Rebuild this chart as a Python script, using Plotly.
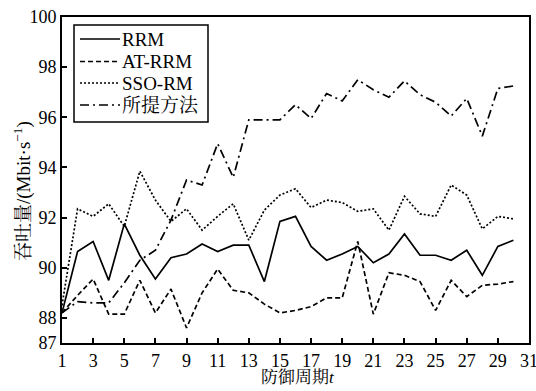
import plotly.graph_objects as go

t = list(range(1, 31))
rrm = [88.2, 90.65, 91.05, 89.5, 91.75, 90.5, 89.55, 90.4, 90.55, 90.95,
       90.65, 90.9, 90.9, 89.45, 91.85, 92.05, 90.85, 90.3, 90.55, 90.85,
       90.2, 90.55, 91.35, 90.5, 90.5, 90.3, 90.7, 89.7, 90.85, 91.1]
at_rrm = [88.2, 88.9, 89.55, 88.15, 88.15, 89.5, 88.2, 89.15, 87.6, 89.0,
          89.95, 89.1, 89.0, 88.55, 88.2, 88.3, 88.45, 88.8, 88.8, 91.05,
          88.15, 89.8, 89.7, 89.45, 88.3, 89.5, 88.85, 89.3, 89.35, 89.45]
sso_rm = [88.5, 92.35, 92.05, 92.55, 91.65, 93.85, 92.7, 91.85, 92.35, 91.5,
          92.05, 92.55, 91.1, 92.3, 92.9, 93.15, 92.4, 92.7, 92.6, 92.25,
          92.35, 91.5, 92.85, 92.15, 92.05, 93.3, 92.9, 91.55, 92.05, 91.95]
proposed = [88.2, 88.65, 88.6, 88.6, 89.4, 90.3, 90.7, 91.9, 93.5, 93.3,
            94.95, 93.6, 95.9, 95.9, 95.9, 96.5, 95.95, 96.95, 96.65, 97.5,
            97.1, 96.8, 97.45, 96.9, 96.6, 96.05, 96.75, 95.25, 97.15, 97.25]

names = ["RRM", "AT-RRM", "SSO-RM", "所提方法"]
x_ticks = list(range(1, 32, 2))
y_ticks = [87, 88, 90, 92, 94, 96, 98, 100]
x_title = "防御周期<i>t</i>"
y_title = "吞吐量/(Mbit·s<sup>−1</sup>)"

FONT = "Liberation Serif, Noto Serif CJK SC, Noto Sans CJK SC, serif"

W, H = 536, 391
ML, MR, MT, MB = 62, 7, 17, 48
PW, PH = W - ML - MR, H - MT - MB


def px2paper(px, py):
    return (px - ML) / PW, (H - MB - py) / PH


fig = go.Figure()
dashes = ["solid", "5px,3px", "2px,2px", "9px,4px,2px,4px"]
series = [rrm, at_rrm, sso_rm, proposed]
for name, ys, dash in zip(names, series, dashes):
    fig.add_trace(go.Scatter(x=t, y=ys, mode="lines", name=name, showlegend=False,
                             line=dict(color="black", width=1.7, dash=dash)))

axis_common = dict(showline=True, linecolor="black", linewidth=2, mirror=True,
                   ticks="inside", ticklen=5, tickwidth=1.5, tickcolor="black",
                   showgrid=False, zeroline=False, automargin=False,
                   ticklabeloverflow="allow",
                   tickfont=dict(family=FONT, size=18, color="black"))

fig.update_xaxes(range=[1, 31], tickvals=x_ticks, ticktext=[str(v) for v in x_ticks],
                 **axis_common)
fig.update_yaxes(range=[87, 100], tickvals=y_ticks, ticktext=[str(v) for v in y_ticks],
                 **axis_common)

shapes = []
annotations = []

# legend box
bx0, by0 = px2paper(74, 122)
bx1, by1 = px2paper(208, 25)
shapes.append(dict(type="rect", xref="paper", yref="paper", x0=bx0, y0=by0, x1=bx1, y1=by1,
                   line=dict(color="black", width=1.5), fillcolor="white", layer="above"))
row_y = [39, 61.5, 83, 105]
for name, dash, ry in zip(names, dashes, row_y):
    lx0, ly = px2paper(80, ry)
    lx1, _ = px2paper(120, ry)
    shapes.append(dict(type="line", xref="paper", yref="paper", x0=lx0, x1=lx1, y0=ly, y1=ly,
                       line=dict(color="black", width=1.7, dash=dash), layer="above"))
    tx, _ = px2paper(120, ry)
    annotations.append(dict(text=name, xref="paper", yref="paper", x=tx, y=ly,
                            xanchor="left", yanchor="middle", showarrow=False,
                            font=dict(family=FONT, size=19, color="black")))

# axis titles
yx, yy = px2paper(22, 191)
annotations.append(dict(text=y_title, xref="paper", yref="paper", x=yx, y=yy,
                        xanchor="center", yanchor="middle", textangle=-90, showarrow=False,
                        font=dict(family=FONT, size=19, color="black")))
xx, xy = px2paper(298, 377)
annotations.append(dict(text=x_title, xref="paper", yref="paper", x=xx, y=xy,
                        xanchor="center", yanchor="middle", showarrow=False,
                        font=dict(family=FONT, size=17, color="black")))

fig.update_layout(
    width=W, height=H,
    margin=dict(l=ML, r=MR, t=MT, b=MB),
    paper_bgcolor="white", plot_bgcolor="white",
    font=dict(family=FONT, color="black"),
    showlegend=False,
    shapes=shapes,
    annotations=annotations,
)

fig.write_html("out.html", config={"displayModeBar": False},
               post_script="document.body.style.margin='0';document.body.style.padding='0';")
